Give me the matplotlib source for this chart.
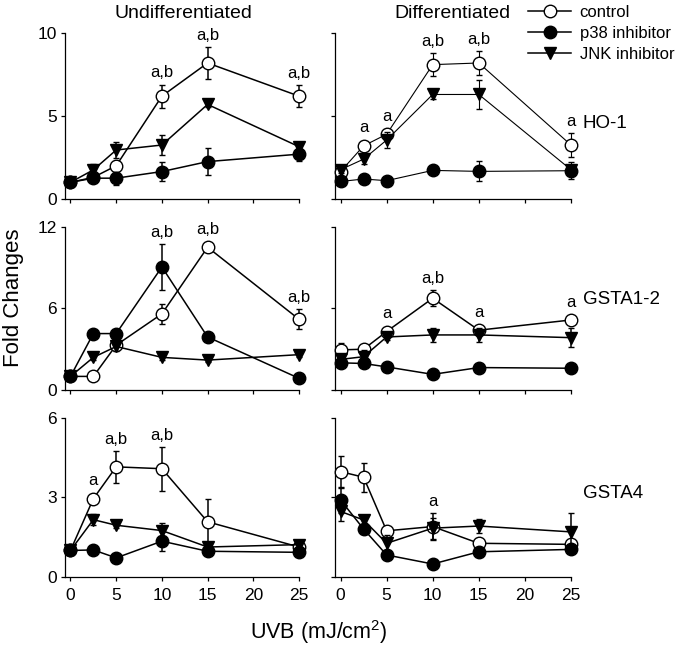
import matplotlib
matplotlib.use("Agg")
import matplotlib.pyplot as plt

plt.rcParams['font.family'] = ['Liberation Sans', 'DejaVu Sans']
plt.rcParams['mathtext.fontset'] = 'custom'
plt.rcParams['mathtext.rm'] = 'Liberation Sans'

# UVB doses (mJ/cm2)
uvb = [0, 2.5, 5, 10, 15, 25]

# HO-1, undifferentiated
ho1_u_ctrl = [1.0, 1.3, 2.0, 6.2, 8.2, 6.2]
ho1_u_ctrl_err = [0.1, 0.2, 0.3, 0.7, 0.95, 0.65]
ho1_u_p38 = [1.0, 1.25, 1.25, 1.65, 2.25, 2.7]
ho1_u_p38_err = [0.1, 0.15, 0.4, 0.55, 0.8, 0.4]
ho1_u_jnk = [1.0, 1.75, 2.95, 3.25, 5.7, 3.15]
ho1_u_jnk_err = [0.1, 0.35, 0.5, 0.6, 0.15, 0.15]
ho1_u_sig = ['', '', '', 'a,b', 'a,b', 'a,b']

# HO-1, differentiated
ho1_d_ctrl = [1.65, 3.2, 3.9, 8.1, 8.2, 3.25]
ho1_d_ctrl_err = [0.2, 0.3, 0.3, 0.7, 0.7, 0.7]
ho1_d_p38 = [1.05, 1.2, 1.1, 1.72, 1.66, 1.7]
ho1_d_p38_err = [0.1, 0.1, 0.1, 0.1, 0.6, 0.5]
ho1_d_jnk = [1.76, 2.4, 3.55, 6.3, 6.3, 1.76]
ho1_d_jnk_err = [0.2, 0.3, 0.5, 0.3, 0.9, 0.3]
ho1_d_sig = ['', 'a', 'a', 'a,b', 'a,b', 'a']

# GSTA1-2, undifferentiated
gsta12_u_ctrl = [1.0, 1.0, 3.3, 5.6, 10.5, 5.2]
gsta12_u_ctrl_err = [0.1, 0.1, 0.2, 0.75, 0.2, 0.75]
gsta12_u_p38 = [1.0, 4.15, 4.15, 9.05, 3.9, 0.86]
gsta12_u_p38_err = [0.1, 0.1, 0.2, 1.7, 0.2, 0.1]
gsta12_u_jnk = [1.0, 2.4, 3.2, 2.4, 2.2, 2.6]
gsta12_u_jnk_err = [0.1, 0.2, 0.3, 0.2, 0.15, 0.15]
gsta12_u_sig = ['', '', '', 'a,b', 'a,b', 'a,b']

# GSTA1-2, differentiated
gsta12_d_ctrl = [2.95, 3.0, 4.3, 6.75, 4.4, 5.15]
gsta12_d_ctrl_err = [0.5, 0.3, 0.2, 0.6, 0.3, 0.2]
gsta12_d_p38 = [2.0, 1.95, 1.7, 1.15, 1.65, 1.6]
gsta12_d_p38_err = [0.3, 0.2, 0.1, 0.1, 0.1, 0.1]
gsta12_d_jnk = [2.25, 2.45, 3.9, 4.05, 4.05, 3.85]
gsta12_d_jnk_err = [0.3, 0.5, 0.2, 0.5, 0.5, 0.7]
gsta12_d_sig = ['', '', 'a', 'a,b', 'a', 'a']

# GSTA4, undifferentiated
gsta4_u_ctrl = [1.0, 2.95, 4.15, 4.08, 2.08, 1.13]
gsta4_u_ctrl_err = [0.05, 0.1, 0.6, 0.83, 0.86, 0.1]
gsta4_u_p38 = [1.0, 1.02, 0.72, 1.35, 0.97, 0.93]
gsta4_u_p38_err = [0.05, 0.05, 0.05, 0.37, 0.05, 0.05]
gsta4_u_jnk = [1.0, 2.16, 1.95, 1.75, 1.13, 1.22]
gsta4_u_jnk_err = [0.05, 0.2, 0.1, 0.3, 0.05, 0.1]
gsta4_u_sig = ['', 'a', 'a,b', 'a,b', '', '']

# GSTA4, differentiated
gsta4_d_ctrl = [3.97, 3.76, 1.74, 1.9, 1.27, 1.23]
gsta4_d_ctrl_err = [0.6, 0.55, 0.1, 0.5, 0.2, 0.1]
gsta4_d_p38 = [2.9, 1.81, 0.83, 0.49, 0.95, 1.04]
gsta4_d_p38_err = [0.5, 0.2, 0.05, 0.05, 0.05, 0.1]
gsta4_d_jnk = [2.47, 2.15, 1.27, 1.84, 1.92, 1.7]
gsta4_d_jnk_err = [0.35, 0.2, 0.3, 0.4, 0.25, 0.7]
gsta4_d_sig = ['', '', '', 'a', '', '']

genes = ['HO-1', 'GSTA1-2', 'GSTA4']
ymax = [10, 12, 6]
yticks = [[0, 5, 10], [0, 6, 12], [0, 3, 6]]

panels = [
    [(ho1_u_ctrl, ho1_u_ctrl_err, ho1_u_p38, ho1_u_p38_err, ho1_u_jnk, ho1_u_jnk_err, ho1_u_sig),
     (ho1_d_ctrl, ho1_d_ctrl_err, ho1_d_p38, ho1_d_p38_err, ho1_d_jnk, ho1_d_jnk_err, ho1_d_sig)],
    [(gsta12_u_ctrl, gsta12_u_ctrl_err, gsta12_u_p38, gsta12_u_p38_err, gsta12_u_jnk, gsta12_u_jnk_err, gsta12_u_sig),
     (gsta12_d_ctrl, gsta12_d_ctrl_err, gsta12_d_p38, gsta12_d_p38_err, gsta12_d_jnk, gsta12_d_jnk_err, gsta12_d_sig)],
    [(gsta4_u_ctrl, gsta4_u_ctrl_err, gsta4_u_p38, gsta4_u_p38_err, gsta4_u_jnk, gsta4_u_jnk_err, gsta4_u_sig),
     (gsta4_d_ctrl, gsta4_d_ctrl_err, gsta4_d_p38, gsta4_d_p38_err, gsta4_d_jnk, gsta4_d_jnk_err, gsta4_d_sig)],
]

fig = plt.figure(figsize=(6.75, 6.5), dpi=100)

col_left = [0.0963, 0.4963]
col_width = [0.3467, 0.3496]
row_bottom = [0.694, 0.400, 0.1123]
row_height = [0.255, 0.251, 0.245]

msize = 9
handles = None
for r in range(3):
    for c in range(2):
        ax = fig.add_axes([col_left[c], row_bottom[r], col_width[c], row_height[r]])
        ctrl, ctrl_e, p38, p38_e, jnk, jnk_e, sig = panels[r][c]
        lw = 0.8 if (r == 0 and c == 1) else 1.1
        kw = dict(color='black', elinewidth=lw, capsize=2, capthick=lw, lw=lw,
                  markeredgecolor='black', markeredgewidth=1, ms=msize, clip_on=False)
        h1 = ax.errorbar(uvb, ctrl, yerr=ctrl_e, marker='o', mfc='white', zorder=3, **kw)
        h2 = ax.errorbar(uvb, p38, yerr=p38_e, marker='o', mfc='black', zorder=4, **kw)
        h3 = ax.errorbar(uvb, jnk, yerr=jnk_e, marker='v', mfc='black', zorder=5, **kw)
        for a in h1[1] + h2[1] + h3[1]:
            a.set_clip_on(False)
        for a in h1[2] + h2[2] + h3[2]:
            a.set_clip_on(False)
        if r == 0 and c == 0:
            handles = [h1[0], h2[0], h3[0]]

        ax.set_xlim(-0.6, 25)
        ax.set_ylim(0, ymax[r])
        ax.set_xticks([0, 5, 10, 15, 20, 25])
        ax.set_yticks(yticks[r])
        for s in ['top', 'right']:
            ax.spines[s].set_visible(False)
        for s in ['left', 'bottom']:
            ax.spines[s].set_linewidth(0.9)
        ax.tick_params(axis='both', direction='out', length=3, width=0.9, labelsize=12.5)
        ax.tick_params(axis='x', pad=5)
        ax.tick_params(axis='y', pad=3)
        if r < 2:
            ax.set_xticklabels([])
        if c == 1:
            ax.set_yticklabels([])

        # significance letters above the highest series at each dose
        px_per_unit = ax.bbox.height / ymax[r] * 72 / fig.dpi
        for i, txt in enumerate(sig):
            if not txt:
                continue
            cands = [(ctrl[i], ctrl_e[i]), (p38[i], p38_e[i]), (jnk[i], jnk_e[i])]
            tops = [y + max(e * px_per_unit, msize / 2) / px_per_unit for y, e in cands]
            top = max(tops)
            ax.annotate(txt, xy=(uvb[i], top), xytext=(0, 3), textcoords='offset points',
                        ha='center', va='bottom', fontsize=12, annotation_clip=False)

# gene labels
gene_y = [1 - 124 / 650, 1 - 299 / 650, 1 - 493 / 650]
for g, y in zip(genes, gene_y):
    fig.text(583 / 675, y, g, fontsize=13.5, ha='left', va='center')

fig.text(183 / 675, 1 - 13 / 650, 'Undifferentiated', fontsize=14, ha='center', va='center')
fig.text(452 / 675, 1 - 13 / 650, 'Differentiated', fontsize=14, ha='center', va='center')
fig.text(14 / 675, 1 - 298 / 650, 'Fold Changes', fontsize=16, rotation=90,
         ha='center', va='center')
fig.text(319 / 675, 1 - 632 / 650, 'UVB (mJ/cm$^2$)', fontsize=15.5, ha='center', va='center')

fig.legend(handles, ['control', 'p38 inhibitor', 'JNK inhibitor'],
           loc='upper left', bbox_to_anchor=(528 / 675, 1 - 5 / 650),
           frameon=False, fontsize=12, handlelength=2.6, handletextpad=0.5,
           labelspacing=0.35, borderpad=0, borderaxespad=0)

fig.savefig('out.png', dpi=100)
